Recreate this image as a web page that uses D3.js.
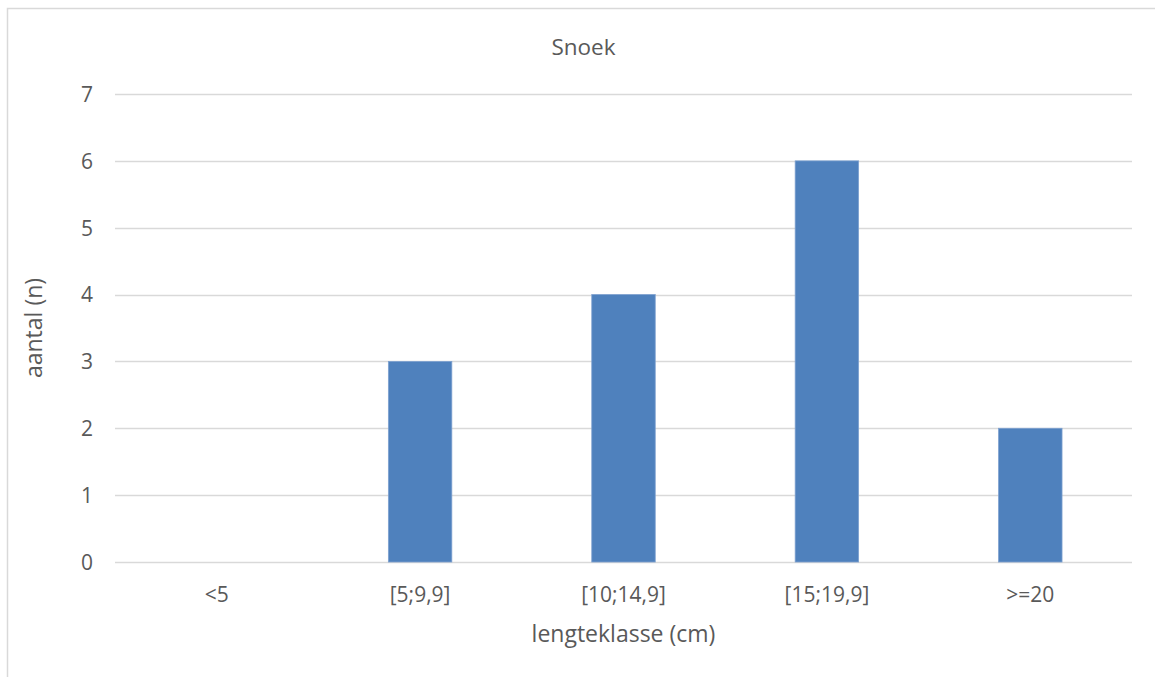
<!DOCTYPE html>
<html>
<head>
<meta charset="utf-8">
<script src="https://cdn.jsdelivr.net/npm/d3@7"></script>
<style>
  html, body { margin: 0; padding: 0; background: #fff; }
  svg { display: block; }
  text { font-family: "Open Sans", "Noto Sans", sans-serif; fill: #595959; }
</style>
</head>
<body>
<svg id="chart" width="1155" height="677"></svg>
<script>
// Length classes and fish counts
const categories = ["<5", "[5;9,9]", "[10;14,9]", "[15;19,9]", ">=20"];
const counts = [0, 3, 4, 6, 2];
const yTicks = [0, 1, 2, 3, 4, 5, 6, 7];

const chartTitle = "Snoek";
const xTitle = "lengteklasse (cm)";
const yTitle = "aantal (n)";

const svg = d3.select("#chart");
const W = 1155, H = 677;
const plot = { left: 115, right: 1132, top: 94, bottom: 562 };

// Chart frame
svg.append("rect")
  .attr("x", 7.5).attr("y", 8.5)
  .attr("width", W + 10).attr("height", H + 10)
  .attr("fill", "#fff").attr("stroke", "#d9d9d9").attr("stroke-width", 1.5);

const x = d3.scaleBand()
  .domain(categories)
  .range([plot.left, plot.right])
  .paddingInner(0.688)
  .paddingOuter(0.344);

const y = d3.scaleLinear()
  .domain([0, 7])
  .range([plot.bottom, plot.top]);

// Horizontal gridlines
svg.append("g")
  .selectAll("line")
  .data(yTicks)
  .join("line")
  .attr("x1", plot.left).attr("x2", plot.right)
  .attr("y1", d => Math.round(y(d)) + 0.5).attr("y2", d => Math.round(y(d)) + 0.5)
  .attr("stroke", "#d9d9d9").attr("stroke-width", 1.3);

// Bars
svg.append("g")
  .selectAll("rect")
  .data(categories.map((c, i) => ({ c, v: counts[i] })).filter(d => d.v > 0))
  .join("rect")
  .attr("x", d => x(d.c))
  .attr("width", x.bandwidth())
  .attr("y", d => y(d.v))
  .attr("height", d => y(0) - y(d.v))
  .attr("fill", "#4f81bd")
  .attr("stroke", "#7ea1cf").attr("stroke-width", 0.8);

// Y axis tick labels
const yAxis = d3.axisLeft(y).tickValues(yTicks).tickSize(0).tickPadding(0).tickFormat(d3.format("d"));
const gy = svg.append("g").attr("transform", `translate(${plot.left - 22},0)`).call(yAxis);
gy.select(".domain").remove();
gy.selectAll("text").attr("font-size", 21).attr("dy", "0.35em")
  .style("font-family", "'Open Sans', sans-serif").attr("fill", "#595959");

// X axis category labels
const xAxis = d3.axisBottom(x).tickSize(0).tickPadding(0);
const gx = svg.append("g").attr("transform", `translate(0,${plot.bottom + 33})`).call(xAxis);
gx.select(".domain").remove();
gx.selectAll("text").attr("font-size", 21).attr("dy", "0.35em")
  .style("font-family", "'Open Sans', sans-serif").attr("fill", "#595959");

// Titles
svg.append("text")
  .attr("x", (plot.left + plot.right) / 2 - 40).attr("y", 46)
  .attr("text-anchor", "middle").attr("dominant-baseline", "central")
  .attr("font-size", 22.5).text(chartTitle);

svg.append("text")
  .attr("x", (plot.left + plot.right) / 2).attr("y", 633)
  .attr("text-anchor", "middle").attr("dominant-baseline", "central")
  .attr("font-size", 23).text(xTitle);

svg.append("text")
  .attr("transform", `translate(33,${(plot.top + plot.bottom) / 2}) rotate(-90)`)
  .attr("text-anchor", "middle").attr("dominant-baseline", "central")
  .attr("font-size", 23).text(yTitle);
</script>
</body>
</html>
